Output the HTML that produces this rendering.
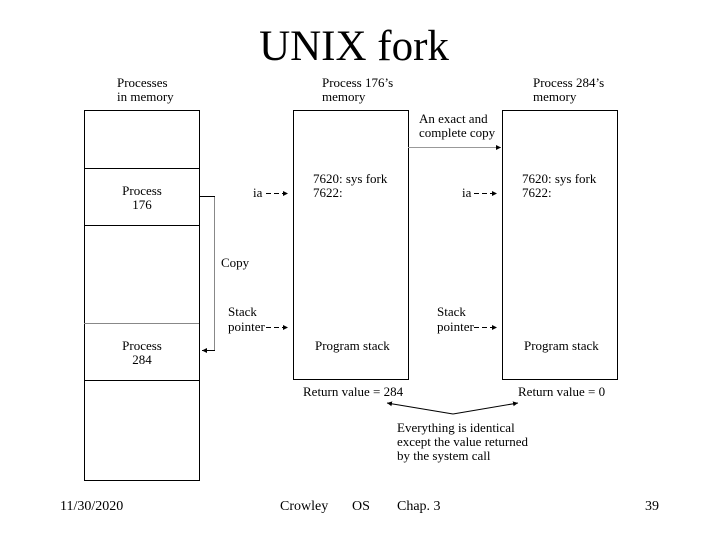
<!DOCTYPE html>
<html><head><style>
body{margin:0;background:#fff;}
svg text{font-family:"Liberation Serif",serif;fill:#000;}
</style></head><body>
<svg width="720" height="540" viewBox="0 0 720 540" xmlns="http://www.w3.org/2000/svg">
<defs><marker id="a" markerWidth="6" markerHeight="6" refX="5" refY="3" orient="auto"><path d="M0,0.5 L5,3 L0,5.5z" fill="#000"/></marker></defs>
<text x="354" y="60" font-size="43" text-anchor="middle">UNIX fork</text>
<g font-size="13">
<text x="117" y="87">Processes</text><text x="117" y="101">in memory</text>
<text x="322" y="87">Process 176’s</text><text x="322" y="101">memory</text>
<text x="533" y="87">Process 284’s</text><text x="533" y="101">memory</text>
</g>
<g fill="none" stroke="#000" stroke-width="1">
<rect x="84.5" y="110.5" width="115" height="370"/>
<line x1="84" y1="168.5" x2="199" y2="168.5"/>
<line x1="84" y1="225.5" x2="199" y2="225.5"/>
<line x1="84" y1="323.5" x2="199" y2="323.5" stroke="#888"/>
<line x1="84" y1="380.5" x2="199" y2="380.5"/>
<rect x="293.5" y="110.5" width="115" height="269"/>
<rect x="502.5" y="110.5" width="115" height="269"/>
<line x1="214.5" y1="196" x2="214.5" y2="351" stroke="#888"/>
<line x1="199" y1="196.5" x2="215" y2="196.5"/>
<line x1="215" y1="350.5" x2="202" y2="350.5" marker-end="url(#a)"/>
<line x1="408" y1="147.5" x2="501" y2="147.5" stroke="#999" marker-end="url(#a)"/>
<line x1="266" y1="193.5" x2="288" y2="193.5" stroke-dasharray="5,3" marker-end="url(#a)"/>
<line x1="474" y1="193.5" x2="497" y2="193.5" stroke-dasharray="5,3" marker-end="url(#a)"/>
<line x1="266" y1="327.5" x2="288" y2="327.5" stroke-dasharray="5,3" marker-end="url(#a)"/>
<line x1="474" y1="327.5" x2="497" y2="327.5" stroke-dasharray="5,3" marker-end="url(#a)"/>
<line x1="453" y1="414" x2="387" y2="403" marker-end="url(#a)"/>
<line x1="453" y1="414" x2="518" y2="403" marker-end="url(#a)"/>
</g>
<g font-size="13">
<text x="142" y="195" text-anchor="middle">Process</text><text x="142" y="209" text-anchor="middle">176</text>
<text x="142" y="350" text-anchor="middle">Process</text><text x="142" y="364" text-anchor="middle">284</text>
<text x="221" y="267">Copy</text>
<text x="228" y="316">Stack</text><text x="228" y="331">pointer</text>
<text x="437" y="316">Stack</text><text x="437" y="331">pointer</text>
<text x="253" y="197">ia</text><text x="462" y="197">ia</text>
<text x="313" y="183">7620:  sys fork</text><text x="313" y="197">7622:</text>
<text x="522" y="183">7620:  sys fork</text><text x="522" y="197">7622:</text>
<text x="419" y="123">An exact and</text><text x="419" y="137">complete copy</text>
<text x="315" y="350">Program stack</text><text x="524" y="350">Program stack</text>
<text x="303" y="396">Return value = 284</text><text x="518" y="396">Return value = 0</text>
<text x="397" y="432">Everything is identical</text>
<text x="397" y="446">except the value returned</text>
<text x="397" y="460">by the system call</text>
</g>
<g font-size="14">
<text x="60" y="510">11/30/2020</text>
<text x="280" y="510">Crowley</text>
<text x="352" y="510">OS</text>
<text x="397" y="510">Chap. 3</text>
<text x="645" y="510">39</text>
</g>
</svg>
</body></html>
